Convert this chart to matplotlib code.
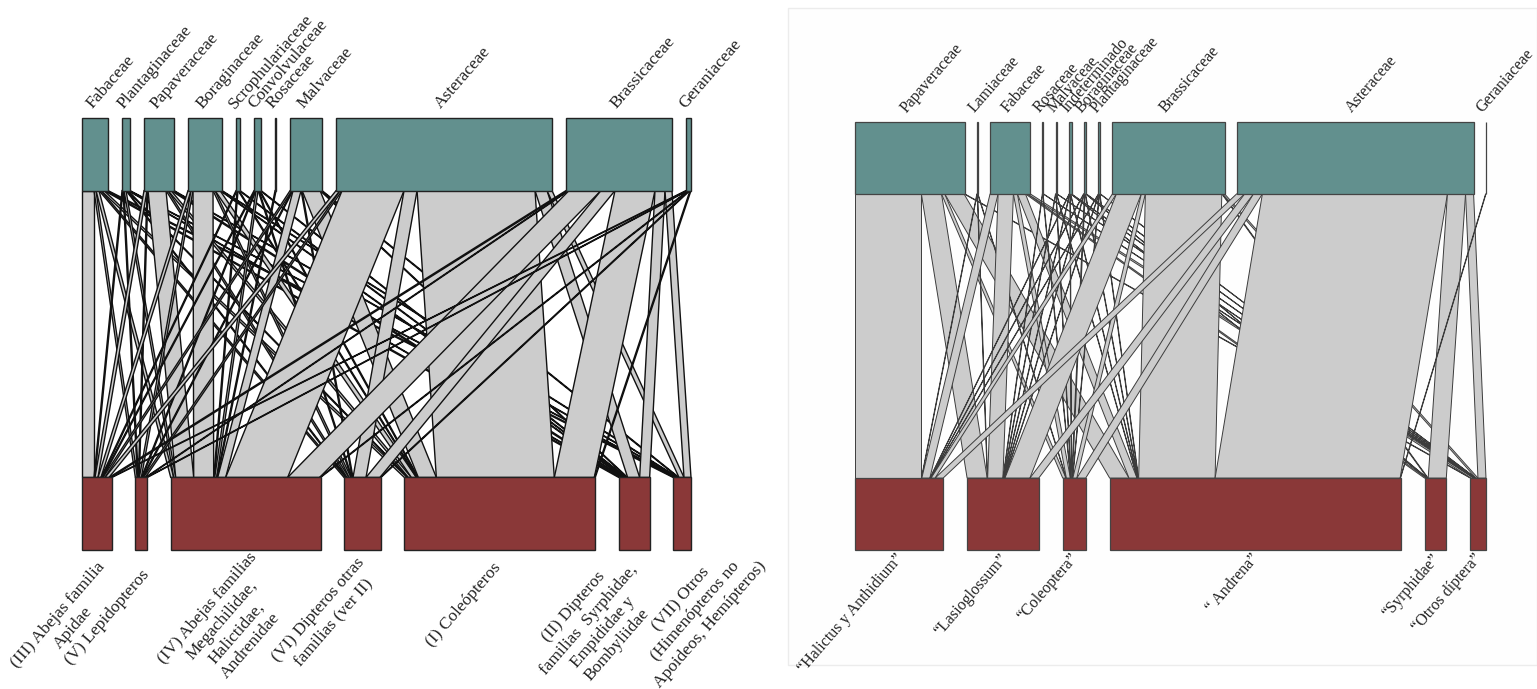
import numpy as np
import matplotlib.pyplot as plt
from matplotlib.patches import Polygon, Rectangle
from matplotlib.textpath import TextPath
from matplotlib.font_manager import FontProperties

plt.rcParams['font.family'] = ['Liberation Serif', 'DejaVu Serif']

# Red A: familias de plantas x grupos funcionales de visitantes
plantas_a = ["Fabaceae", "Plantaginaceae", "Papaveraceae", "Boraginaceae",
             "Scrophulariaceae", "Convolvulaceae", "Rosaceae", "Malvaceae",
             "Asteraceae", "Brassicaceae", "Geraniaceae"]
grupos_a = ["(III) Abejas familia\nApidae",
            "(V) Lepidopteros",
            "(IV) Abejas familias\nMegachilidae,\nHalictidae,\nAndrenidae",
            "(VI) Dipteros otras\nfamilias (ver II)",
            "(I) Coleópteros",
            "(II) Dipteros\nfamilias  Syrphidae,\nEmpididae y\nBombyliidae",
            "(VII) Otros\n(Himenópteros no\nApoideos, Hemípteros)"]
#            III  V   IV  VI   I   II VII
visitas_a = [[12, 2,  3,  2,   3,  2, 2],   # Fabaceae
             [1,  1,  2,  1,   1,  1, 1],   # Plantaginaceae
             [3,  1, 18,  2,   3,  2, 1],   # Papaveraceae
             [3,  2, 20,  2,   5,  1, 1],   # Boraginaceae
             [1,  0,  1,  0,   1,  1, 0],   # Scrophulariaceae
             [1,  1,  2,  1,   1,  1, 0],   # Convolvulaceae
             [0,  0,  1,  0,   0,  0, 0],   # Rosaceae
             [2,  1,  8,  1,  18,  1, 1],   # Malvaceae
             [4,  2, 62, 13, 118, 12, 5],   # Asteraceae
             [2,  1, 32, 14,  40, 10, 7],   # Brassicaceae
             [1,  1,  1,  1,   1,  0, 0]]   # Geraniaceae

# Red B: familias de plantas x morfotipos
plantas_b = ["Papaveraceae", "Lamiaceae", "Fabaceae", "Rosaceae", "Malvaceae",
             "Indeterminado", "Boraginaceae", "Plantaginaceae", "Brassicaceae",
             "Asteraceae", "Geraniaceae"]
grupos_b = ["“Halictus y Anthidium”", "“Lasioglossum”", "“Coleoptera”",
            "“ Andrena”", "“Syrphidae”", "“Otros díptera”"]
#            Hal  Las  Col  And  Syr Otr
visitas_b = [[165, 50,  8,  48,  0,  2],   # Papaveraceae
             [1,    1,  1,   0,  0,  0],   # Lamiaceae
             [20,  38, 10,  20,  5,  7],   # Fabaceae
             [0,    1,  1,   0,  0,  1],   # Rosaceae
             [0,    1,  1,   1,  0,  1],   # Malvaceae
             [1,    1,  1,   1,  1,  1],   # Indeterminado
             [1,    1,  2,   1,  1,  1],   # Boraginaceae
             [1,    1,  1,   1,  0,  1],   # Plantaginaceae
             [10,  62, 10, 190,  2,  5],   # Brassicaceae
             [20,  22, 22, 460, 45, 20],   # Asteraceae
             [0,    0,  0,   1,  0,  0]]   # Geraniaceae

TOP_COL = "#62908e"
LOW_COL = "#8a3838"
LINK_COL = "#cccccc"
BOX_H = 0.168
ANG = 49
DPI = 100


def text_width_px(s, fsize):
    prop = FontProperties(family=plt.rcParams['font.family'], size=fsize)
    return TextPath((0, 0), s, prop=prop).get_extents().width * DPI / 72


def lower_label(ax, x, text, fsize, shift, step):
    # multi-line rotated label, lines centred on each other, the block's
    # upper-right corner sitting just under the box
    lines = text.split("\n")
    widths = [text_width_px(s, fsize) for s in lines]
    wmax = max(widths)
    a = np.deg2rad(ANG)
    along = np.array([np.cos(a), np.sin(a)])
    down = np.array([np.sin(a), -np.cos(a)])
    for k, s in enumerate(lines):
        off = np.array(shift) - along * wmax / 2 + down * k * step
        ax.annotate(s, xy=(x, 0), xytext=tuple(off), textcoords="offset pixels",
                    rotation=ANG, rotation_mode="anchor", ha="center", va="top",
                    fontsize=fsize, color="#222222")


def plotweb(ax, web, top_names, low_names, gap_frac, fsize,
            link_ec, link_lw, box_ec, box_lw, low_shift=None):
    web = np.asarray(web, dtype=float)
    top_tot = web.sum(axis=1)
    low_tot = web.sum(axis=0)
    n_top, n_low = web.shape
    gap_top = gap_frac * top_tot.sum()
    span = top_tot.sum() + gap_top * (n_top - 1)
    gap_low = (span - low_tot.sum()) / (n_low - 1)
    top_x = np.concatenate([[0], np.cumsum(top_tot + gap_top)[:-1]])
    low_x = np.concatenate([[0], np.cumsum(low_tot + gap_low)[:-1]])
    if low_shift is None:
        low_shift = [(0, 0)] * n_low

    # where each link starts inside its upper and lower box
    top_start = top_x[:, None] + np.cumsum(web, axis=1) - web
    low_start = low_x[None, :] + np.cumsum(web, axis=0) - web

    y_top, y_low = 1 - BOX_H, BOX_H
    for i in range(n_top):
        for j in range(n_low):
            v = web[i, j]
            if v <= 0:
                continue
            xt, xb = top_start[i, j], low_start[i, j]
            ax.add_patch(Polygon([(xt, y_top), (xt + v, y_top),
                                  (xb + v, y_low), (xb, y_low)],
                                 closed=True, fc=LINK_COL, ec=link_ec,
                                 lw=link_lw, clip_on=False))

    for i in range(n_top):
        ax.add_patch(Rectangle((top_x[i], y_top), top_tot[i], BOX_H,
                               fc=TOP_COL, ec=box_ec, lw=box_lw, clip_on=False))
        ax.annotate(top_names[i], xy=(top_x[i] + top_tot[i] / 2, 1),
                    xytext=(0, 6), textcoords="offset pixels",
                    rotation=ANG, rotation_mode="anchor",
                    ha="left", va="bottom", fontsize=fsize, color="#222222")
    for j in range(n_low):
        ax.add_patch(Rectangle((low_x[j], 0), low_tot[j], BOX_H,
                               fc=LOW_COL, ec=box_ec, lw=box_lw, clip_on=False))
        lower_label(ax, low_x[j] + low_tot[j] / 2, low_names[j], fsize,
                    low_shift[j], step=fsize * DPI / 72 * 1.1)

    ax.set_xlim(0, span)
    ax.set_ylim(0, 1)
    ax.axis("off")


W, H = 1537, 689
fig = plt.figure(figsize=(W / DPI, H / DPI), dpi=DPI)

# faint frame of the second panel, kept behind everything
fig.patches.append(Rectangle((788 / W, 1 - 665 / H), (W - 788) / W, (665 - 8) / H,
                             transform=fig.transFigure, fc="#fefefe",
                             ec="#ececec", lw=1.0, zorder=-10))

ax_a = fig.add_axes([82 / W, 1 - 550 / H, 609 / W, 432 / H])
plotweb(ax_a, visitas_a, plantas_a, grupos_a, gap_frac=0.0299, fsize=12.5,
        link_ec="#111111", link_lw=1.0, box_ec="#222222", box_lw=1.0,
        low_shift=[(-1, -10), (-1, -17), (2, 0), (-7, -5), (-8, -10),
                   (-21, 0), (46, 17)])

ax_b = fig.add_axes([855 / W, 1 - 550 / H, 631 / W, 428 / H])
plotweb(ax_b, visitas_b, plantas_b, grupos_b, gap_frac=0.0235, fsize=11.5,
        link_ec="#3c3c3c", link_lw=0.7, box_ec="#444444", box_lw=0.9,
        low_shift=[(-5, -1)] * 6)

fig.savefig("out.png", dpi=DPI)
